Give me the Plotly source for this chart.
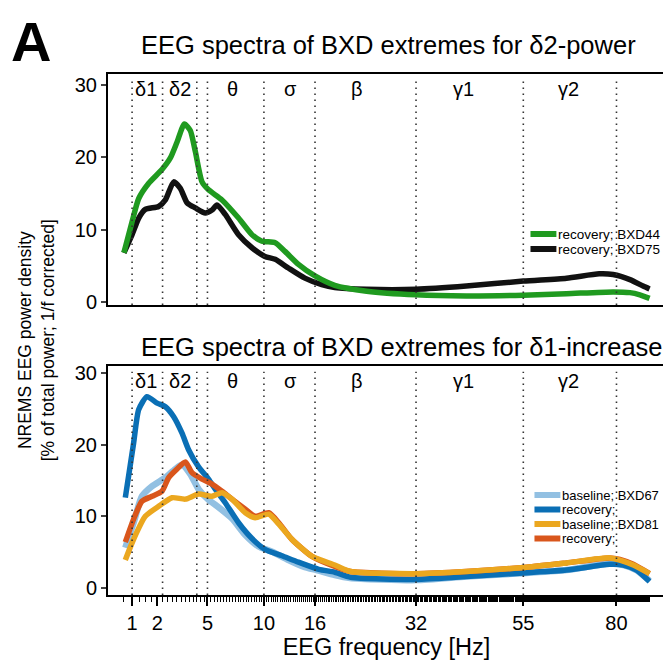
import numpy as np
import plotly.graph_objects as go

# ---------------- data ----------------
# top panel: delta2-power extremes (frequency in Hz, power in %)
top_green_f = [0.75, 1.0, 1.23, 1.62, 2.22, 2.65, 3.02, 3.45, 3.82, 4.15, 4.61, 5.08, 6.12, 7.54, 8.8, 9.8,
               11.2, 12.3, 13.9, 16.0, 18.7, 23.5, 32, 42, 55, 66, 79, 84, 87, 90]
top_green_v = [6.8, 11.1, 14.3, 16.4, 18.3, 19.9, 22.1, 24.6, 23.7, 20.8, 16.6, 15.5, 14.1, 11.6, 9.3, 8.4,
               8.2, 7.0, 5.2, 3.6, 2.3, 1.5, 1.0, 0.85, 0.95, 1.15, 1.4, 1.3, 1.0, 0.5]
top_black_f = [0.75, 1.0, 1.23, 1.48, 2.06, 2.39, 2.83, 3.21, 3.62, 4.15, 4.84, 5.34, 5.72, 6.39, 7.54, 8.8,
               10.1, 11.2, 12.7, 14.7, 16.9, 18.7, 23.5, 32, 42, 55, 66, 75, 79, 84, 88, 90]
top_black_v = [6.8, 9.3, 11.6, 12.8, 13.2, 14.1, 16.6, 15.7, 13.7, 13.0, 12.3, 12.7, 13.4, 12.1, 9.3, 7.5,
               6.3, 5.9, 4.7, 3.3, 2.4, 2.0, 1.75, 1.75, 2.2, 2.9, 3.3, 3.9, 3.8, 3.1, 2.2, 1.8]

# bottom panel: delta1-increase extremes
b67_base_f = [0.79, 1.05, 1.35, 1.76, 2.39, 2.92, 3.31, 3.82, 4.37, 5.08, 5.6, 6.96, 8.16, 9.45, 10.8,
              12.7, 14.7, 16.2, 18.7, 20.9, 32, 42, 55.8, 66, 78, 82, 86, 90]
b67_base_v = [5.6, 9.1, 12.8, 14.2, 15.4, 16.6, 17.2, 15.9, 13.8, 12.3, 11.6, 9.7, 7.4, 5.8, 5.1,
              3.9, 2.9, 2.5, 1.8, 1.4, 1.1, 1.6, 2.1, 2.5, 3.4, 3.2, 2.5, 1.0]
b67_rec_f = [0.79, 1.05, 1.23, 1.55, 1.99, 2.39, 2.83, 3.31, 3.71, 4.37, 5.08, 5.59, 6.39, 7.54, 8.8,
             10.1, 11.95, 13.9, 16.5, 18.7, 21, 32, 42, 55, 66, 78, 82, 86, 90]
b67_rec_v = [12.6, 20.2, 24.9, 26.7, 25.8, 25.3, 23.9, 21.6, 19.3, 16.9, 15.2, 13.8, 11.9, 9.1, 6.9,
             5.4, 4.5, 3.6, 2.6, 2.2, 1.5, 1.2, 1.6, 2.1, 2.5, 3.3, 3.2, 2.5, 0.9]
b81_base_f = [0.79, 1.05, 1.48, 2.06, 2.74, 3.51, 4.37, 5.34, 6.12, 6.96, 8.16, 9.12, 10.5, 11.6, 13.1,
              15.6, 18.7, 21, 32, 42, 55.8, 66, 78, 81, 85, 90]
b81_base_v = [3.9, 6.8, 10.0, 11.4, 12.6, 12.4, 13.1, 12.8, 13.3, 12.4, 10.5, 9.8, 10.3, 8.9, 6.8,
              4.4, 3.2, 2.3, 2.0, 2.3, 2.9, 3.5, 4.2, 3.9, 3.2, 2.0]
b81_rec_f = [0.79, 1.05, 1.35, 1.76, 2.22, 2.56, 3.02, 3.51, 3.93, 4.61, 5.34, 6.12, 6.96, 8.16, 9.12,
             10.5, 11.6, 13.1, 15.6, 18.7, 21, 32, 42, 55.8, 66, 78, 81, 85, 90]
b81_rec_v = [6.4, 9.6, 12.1, 12.8, 13.5, 15.4, 16.6, 17.6, 16.1, 15.2, 14.5, 13.5, 12.4, 11.0, 10.0,
             10.5, 9.1, 6.8, 4.4, 3.0, 2.3, 2.0, 2.3, 2.9, 3.5, 4.2, 4.0, 3.3, 2.0]

tick_freqs = [1, 2, 5, 10, 16, 32, 55, 80]
band_edges = [1, 2.25, 4.25, 5, 10, 16, 32, 55, 80]
band_names = ["δ1", "δ2", "θ", "σ", "β", "γ1", "γ2"]
band_label_f = [1.5, 3.2, 7.0, 12.9, 22.0, 41.5, 66.5]
y_ticks = [0, 10, 20, 30]

top_legend = [("recovery; BXD44", "#1f9a1f"), ("recovery; BXD75", "#111111")]
bot_legend = [("baseline; BXD67", "#92c0e2"), ("recovery;", "#0a6fb5"),
              ("baseline; BXD81", "#eba71f"), ("recovery;", "#d9561c")]

FONT = "Liberation Sans, Arial, sans-serif"
sq = np.sqrt

# figure geometry (the page adds an 8px body margin, so the figure is 8px smaller)
W, H = 663, 657
ML, MR, MT, MB = 100, 4, 66, 70
PW, PH = W - ML - MR, H - MT - MB
OFF = 8


def px2x(px):
    return (px - OFF - ML) / PW


def px2y(py):
    return (H - MB - (py - OFF)) / PH


fig = go.Figure()


def add(f, v, color, name, xa, ya, width=5.5):
    fig.add_trace(go.Scatter(x=sq(np.array(f)), y=v, mode="lines", name=name,
                             line=dict(color=color, width=width, shape="spline", smoothing=0.6),
                             xaxis=xa, yaxis=ya, showlegend=False, hoverinfo="skip"))


add(top_black_f, top_black_v, "#111111", "recovery; BXD75", "x", "y")
add(top_green_f, top_green_v, "#1f9a1f", "recovery; BXD44", "x", "y")
add(b67_base_f, b67_base_v, "#92c0e2", "baseline; BXD67", "x2", "y2", 6.5)
add(b67_rec_f, b67_rec_v, "#0a6fb5", "recovery;", "x2", "y2")
add(b81_rec_f, b81_rec_v, "#d9561c", "recovery;", "x2", "y2")
add(b81_base_f, b81_base_v, "#eba71f", "baseline; BXD81", "x2", "y2")

xr = [0.605, 9.74]
ax_common = dict(showline=True, mirror=True, linecolor="black", linewidth=2,
                 showgrid=False, zeroline=False)
minor_vals = [float(sq(v)) for v in np.arange(0.75, 90.01, 0.25)]

top_dom0 = px2y(305)
bot_dom1 = px2y(366)

fig.update_layout(
    width=W, height=H,
    margin=dict(l=ML, r=MR, t=MT, b=MB),
    paper_bgcolor="white", plot_bgcolor="white",
    font=dict(family=FONT, color="black", size=20),
    showlegend=False,
    xaxis=dict(domain=[0, 1], anchor="y", range=xr, showticklabels=False, ticks="", **ax_common),
    yaxis=dict(domain=[top_dom0, 1], anchor="x", range=[-0.41, 31.5], tickvals=y_ticks,
               ticks="outside", ticklen=5, tickwidth=1.5, tickfont=dict(size=20), **ax_common),
    xaxis2=dict(domain=[0, 1], anchor="y2", range=xr,
                tickmode="array", tickvals=[float(sq(t)) for t in tick_freqs],
                ticktext=[str(t) for t in tick_freqs],
                ticks="outside", ticklen=9, tickwidth=2, tickcolor="black",
                tickfont=dict(size=20),
                minor=dict(tickmode="array", tickvals=minor_vals, ticks="outside",
                           ticklen=5, tickwidth=1, tickcolor="black"),
                title=dict(text="EEG frequency [Hz]", font=dict(size=23.5), standoff=3),
                **ax_common),
    yaxis2=dict(domain=[0, bot_dom1], anchor="x2", range=[-0.98, 30.98], tickvals=y_ticks,
                ticks="outside", ticklen=5, tickwidth=1.5, tickfont=dict(size=20), **ax_common),
)

shapes = []
annotations = []
for xa, ya in (("x", "y"), ("x2", "y2")):
    for e in band_edges:
        shapes.append(dict(type="line", xref=xa, yref=ya + " domain", x0=float(sq(e)), x1=float(sq(e)),
                           y0=0.0, y1=0.975, line=dict(color="#333333", width=1.6, dash="1.6px,4.4px")))
    for nm, f in zip(band_names, band_label_f):
        annotations.append(dict(text=nm, xref=xa, yref=ya + " domain", x=float(sq(f)), y=0.935,
                                showarrow=False, font=dict(size=20), xanchor="center", yanchor="middle",
                                borderpad=0))


# hand-built legends (tight spacing like the original)
def legend(entries, x_line0, x_line1, x_text, y0, dy, fsize):
    for i, (txt, col) in enumerate(entries):
        yy = px2y(y0 + i * dy)
        shapes.append(dict(type="line", xref="paper", yref="paper", x0=px2x(x_line0), x1=px2x(x_line1),
                           y0=yy, y1=yy, line=dict(color=col, width=6)))
        annotations.append(dict(text=txt, xref="paper", yref="paper", x=px2x(x_text), y=yy,
                                xanchor="left", yanchor="middle", showarrow=False,
                                font=dict(size=fsize), borderpad=0))


legend(top_legend, 532, 558, 559, 234, 15, 13.5)
legend(bot_legend, 536, 562, 563, 495, 14.5, 13)

annotations += [
    dict(text="<b>A</b>", xref="paper", yref="paper", x=px2x(10), y=px2y(41), xanchor="left",
         yanchor="middle", showarrow=False, font=dict(size=56), borderpad=0),
    dict(text="EEG spectra of BXD extremes for δ2-power", xref="paper", yref="paper",
         x=px2x(139), y=px2y(45), xanchor="left", yanchor="middle", showarrow=False, font=dict(size=25.5)),
    dict(text="EEG spectra of BXD extremes for δ1-increase", xref="paper", yref="paper",
         x=px2x(139), y=px2y(347), xanchor="left", yanchor="middle", showarrow=False, font=dict(size=25.5)),
    dict(text="NREMS EEG power density<br>[% of total power; 1/f corrected]", xref="paper", yref="paper",
         x=px2x(36), y=px2y(340), xanchor="center", yanchor="middle", showarrow=False, textangle=-90,
         font=dict(size=17.5)),
]
fig.update_layout(shapes=shapes, annotations=annotations)

fig.write_html("out.html")
